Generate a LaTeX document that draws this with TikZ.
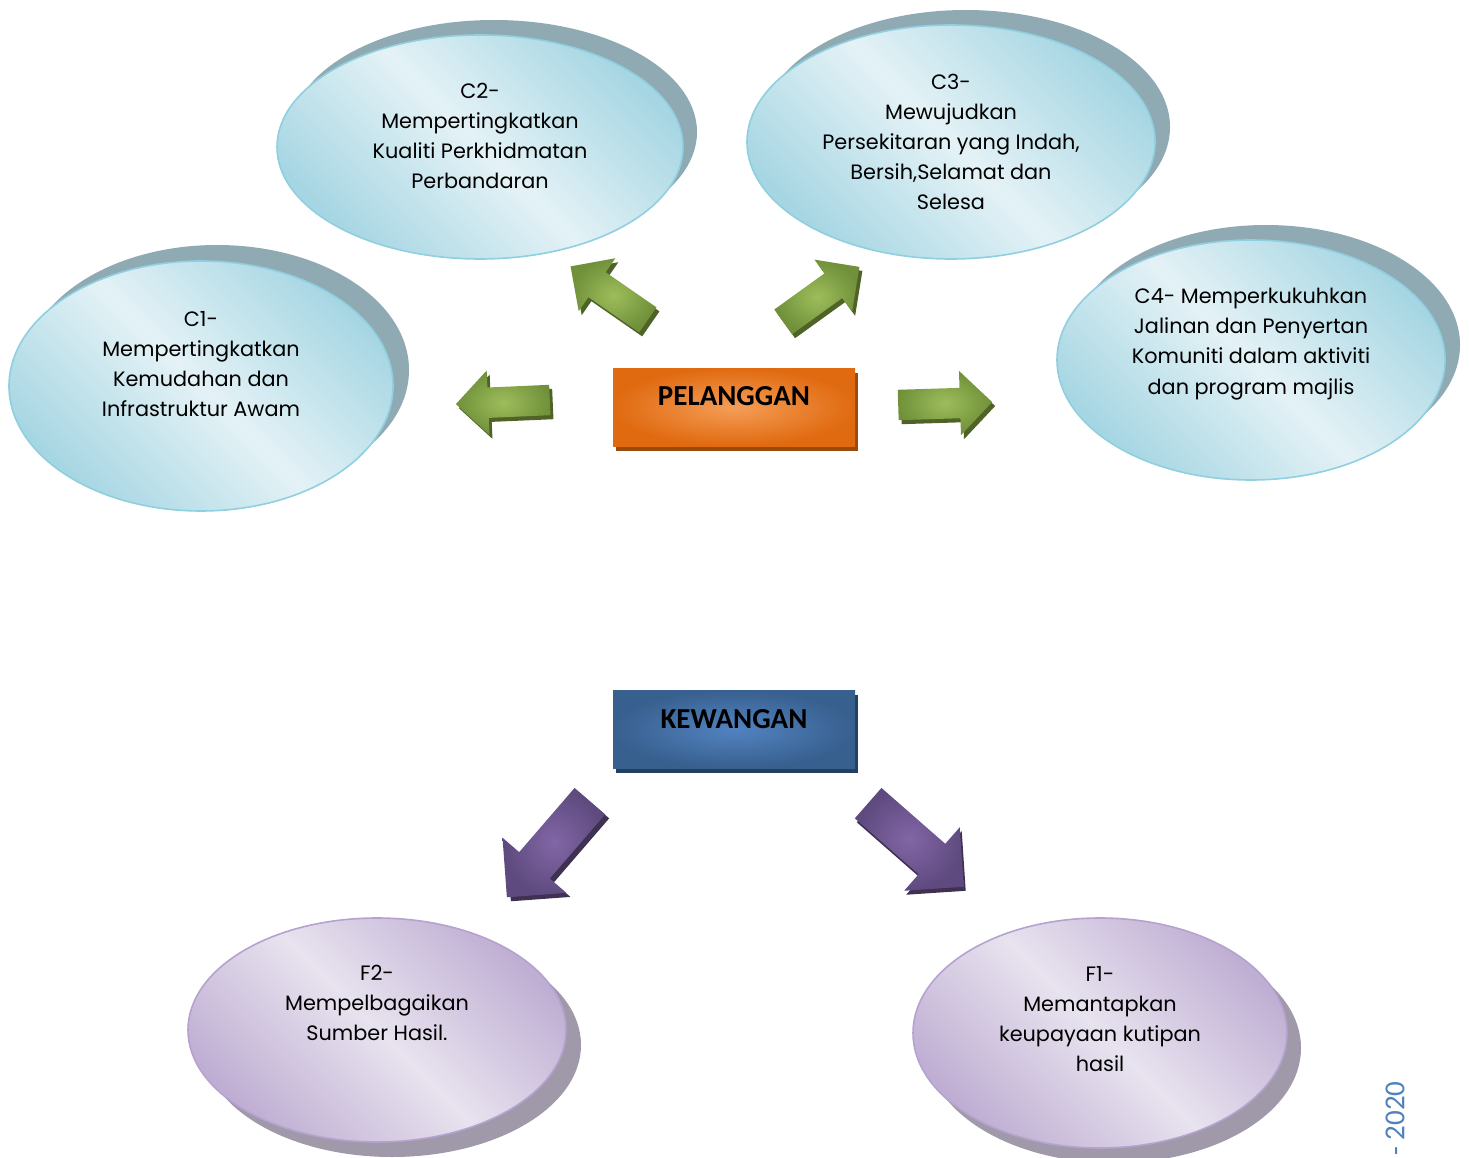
\documentclass[tikz,border=0pt]{standalone}
\usepackage{fontspec}
\setmainfont{Poppins}
\newfontfamily\headfont{Carlito}
\usetikzlibrary{shapes.geometric,shapes.arrows}

\definecolor{cyanedge}{HTML}{8FCFDF}
\definecolor{cyandark}{HTML}{A6D6E3}
\definecolor{cyanlight}{HTML}{E4F2F6}
\definecolor{cyanshadow}{HTML}{8FAAB3}
\definecolor{lilacedge}{HTML}{B5A2CE}
\definecolor{lilacdark}{HTML}{BFAED3}
\definecolor{lilaclight}{HTML}{E8E3EF}
\definecolor{lilacshadow}{HTML}{A099AA}
\definecolor{orangeout}{HTML}{E06A10}
\definecolor{orangein}{HTML}{F59E58}
\definecolor{orangeshadow}{HTML}{9A4A0A}
\definecolor{navyout}{HTML}{38608F}
\definecolor{navyin}{HTML}{5283C0}
\definecolor{navyshadow}{HTML}{243F60}
\definecolor{greenin}{HTML}{9DBD5B}
\definecolor{greenout}{HTML}{70903A}
\definecolor{greenshadow}{HTML}{4F6228}
\definecolor{purplein}{HTML}{8266A6}
\definecolor{purpleout}{HTML}{5E4A7E}
\definecolor{purpleshadow}{HTML}{3F3151}
\definecolor{yeartext}{HTML}{4F81BD}

\tikzset{
  bubble/.style={ellipse, draw=cyanedge, line width=1.6pt,
    top color=cyandark, bottom color=cyandark, middle color=cyanlight,
    shading angle=-45},
  bubbleshadow/.style={ellipse, fill=cyanshadow, draw=none},
  fbubble/.style={ellipse, draw=lilacedge, line width=1.6pt,
    top color=lilacdark, bottom color=lilacdark, middle color=lilaclight,
    shading angle=-45},
  fbubbleshadow/.style={ellipse, fill=lilacshadow, draw=none},
  goaltext/.style={align=center, font=\fontsize{20.8}{30.2}\selectfont, inner sep=0pt},
  headbox/.style={rectangle, inner sep=0pt, minimum width=242pt, minimum height=78pt},
  headlabel/.style={font=\headfont\bfseries\fontsize{29}{32}\selectfont, inner sep=0pt, anchor=base},
  % block arrows: body half-width set by inner ysep, head by head extend
  greenshape/.style={single arrow, draw=none, inner xsep=0pt, inner ysep=15pt,
    minimum height=94pt, single arrow head extend=17pt, anchor=tail},
  greenarrow/.style={greenshape, inner color=greenin, outer color=greenout},
  greenarrowshadow/.style={greenshape, fill=greenshadow},
  purpleshape/.style={single arrow, draw=none, inner xsep=0pt, inner ysep=20pt,
    minimum height=127pt, single arrow head extend=22pt, anchor=tail},
  purplearrow/.style={purpleshape, inner color=purplein, outer color=purpleout},
  purplearrowshadow/.style={purpleshape, fill=purpleshadow},
}

\begin{document}
\begin{tikzpicture}[x=1pt, y=-1pt]
\useasboundingbox (0,0) rectangle (1469,1158);

% customer goals (C1-C4): shadow first, then the bubble
\node[bubbleshadow, minimum width=384pt, minimum height=250pt] (c1s) at (217,370) {};
\node[bubble, minimum width=384pt, minimum height=250pt] (c1) at (201,386) {};
\node[goaltext] (c1t) at (201,364) {C1-\\Mempertingkatkan\\Kemudahan dan\\Infrastruktur Awam};

\node[bubbleshadow, minimum width=406pt, minimum height=224pt] (c2s) at (494,132) {};
\node[bubble, minimum width=406pt, minimum height=224pt] (c2) at (480,147) {};
\node[goaltext] (c2t) at (480,136) {C2-\\Mempertingkatkan\\Kualiti Perkhidmatan\\Perbandaran};

\node[bubbleshadow, minimum width=408pt, minimum height=234pt] (c3s) at (966,127) {};
\node[bubble, minimum width=408pt, minimum height=234pt] (c3) at (951,142) {};
\node[goaltext] (c3t) at (951,142) {C3-\\Mewujudkan\\Persekitaran yang Indah,\\Bersih,Selamat dan\\Selesa};

\node[bubbleshadow, minimum width=388pt, minimum height=240pt] (c4s) at (1266,345) {};
\node[bubble, minimum width=388pt, minimum height=240pt] (c4) at (1251,360) {};
\node[goaltext] (c4t) at (1251,344) {C4- Memperkukuhkan\\Jalinan dan Penyertan\\Komuniti dalam aktiviti\\dan program majlis};

% financial goals (F1, F2)
\node[fbubbleshadow, minimum width=378pt, minimum height=224pt] (f2s) at (392,1045) {};
\node[fbubble, minimum width=378pt, minimum height=224pt] (f2) at (377,1030) {};
\node[goaltext] (f2t) at (377,1003) {F2-\\Mempelbagaikan\\Sumber Hasil.};

\node[fbubbleshadow, minimum width=374pt, minimum height=230pt] (f1s) at (1114,1048) {};
\node[fbubble, minimum width=374pt, minimum height=230pt] (f1) at (1100,1033) {};
\node[goaltext] (f1t) at (1100,1019) {F1-\\Memantapkan\\keupayaan kutipan\\hasil};

% perspective headings
\node[headbox, fill=orangeshadow] (pels) at (737,412) {};
\node[headbox, inner color=orangein, outer color=orangeout] (pel) at (734,407) {};
\node[headlabel] (pelt) at (734,405) {PELANGGAN};

\node[headbox, fill=navyshadow] (kews) at (737,734) {};
\node[headbox, inner color=navyin, outer color=navyout] (kew) at (734,729) {};
\node[headlabel] (kewt) at (734,728) {KEWANGAN};

% green block arrows around PELANGGAN
\node[greenarrowshadow, rotate=182.5] (gls) at (553,404) {};
\node[greenarrow, rotate=182.5] (gl) at (550,400) {};
\node[greenarrowshadow, rotate=1.8] (grs) at (901,409) {};
\node[greenarrow, rotate=1.8] (gr) at (898,405) {};
\node[greenarrowshadow, rotate=145.3] (guls) at (651,324) {};
\node[greenarrow, rotate=145.3] (gul) at (648,320) {};
\node[greenarrowshadow, rotate=35.8] (gurs) at (786,326) {};
\node[greenarrow, rotate=35.8] (gur) at (783,322) {};

% purple block arrows below KEWANGAN
\node[purplearrowshadow, rotate=-130.8] (pls) at (594,805) {};
\node[purplearrow, rotate=-130.8] (pl) at (590,801) {};
\node[purplearrowshadow, rotate=-41.2] (prs) at (870,807) {};
\node[purplearrow, rotate=-41.2] (pr) at (868,803) {};

% year mark along the right margin
\node[rotate=90, anchor=west, text=yeartext, font=\headfont\fontsize{29}{32}\selectfont, inner sep=0pt]
  (year) at (1395,1156) {- 2020};
\end{tikzpicture}
\end{document}
